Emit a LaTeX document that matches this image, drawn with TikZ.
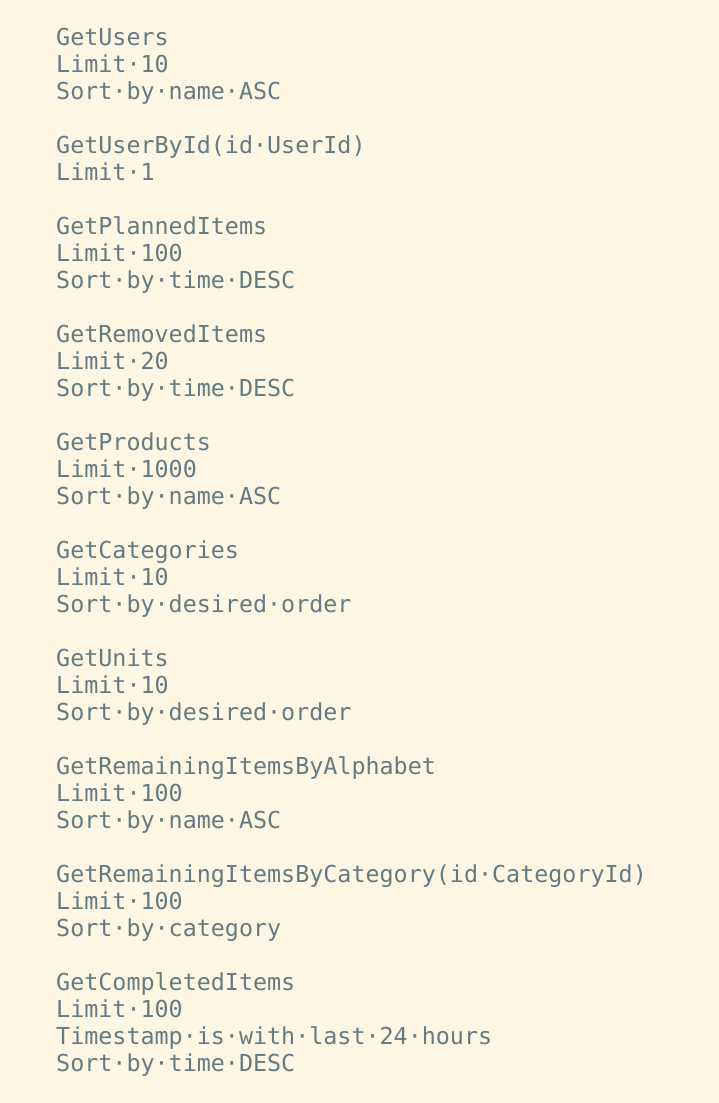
\documentclass[tikz,border=0pt]{standalone}
\usepackage{fontspec}
\newfontfamily\codefont{DejaVu Sans Mono}
\definecolor{bgcream}{HTML}{FDF6E3}
\definecolor{codegray}{HTML}{657B83}
\begin{document}
\begin{tikzpicture}[x=1pt,y=1pt,
  codeline/.style={anchor=base west, inner sep=0pt, text=codegray,
    font=\codefont\fontsize{23.36}{27}\selectfont}]
\fill[bgcream] (0,0) rectangle (719,-1103);
\useasboundingbox (0,0) rectangle (719,-1103);
\def\bl#1{-45-27*#1}
% group 1
\node[codeline] (a1) at (56,{\bl{0}}) {GetUsers};
\node[codeline] (a2) at (56,{\bl{1}}) {Limit·10};
\node[codeline] (a3) at (56,{\bl{2}}) {Sort·by·name·ASC};
% group 2
\node[codeline] (b1) at (56,{\bl{4}}) {GetUserById(id·UserId)};
\node[codeline] (b2) at (56,{\bl{5}}) {Limit·1};
% group 3
\node[codeline] (c1) at (56,{\bl{7}}) {GetPlannedItems};
\node[codeline] (c2) at (56,{\bl{8}}) {Limit·100};
\node[codeline] (c3) at (56,{\bl{9}}) {Sort·by·time·DESC};
% group 4
\node[codeline] (d1) at (56,{\bl{11}}) {GetRemovedItems};
\node[codeline] (d2) at (56,{\bl{12}}) {Limit·20};
\node[codeline] (d3) at (56,{\bl{13}}) {Sort·by·time·DESC};
% group 5
\node[codeline] (e1) at (56,{\bl{15}}) {GetProducts};
\node[codeline] (e2) at (56,{\bl{16}}) {Limit·1000};
\node[codeline] (e3) at (56,{\bl{17}}) {Sort·by·name·ASC};
% group 6
\node[codeline] (f1) at (56,{\bl{19}}) {GetCategories};
\node[codeline] (f2) at (56,{\bl{20}}) {Limit·10};
\node[codeline] (f3) at (56,{\bl{21}}) {Sort·by·desired·order};
% group 7
\node[codeline] (g1) at (56,{\bl{23}}) {GetUnits};
\node[codeline] (g2) at (56,{\bl{24}}) {Limit·10};
\node[codeline] (g3) at (56,{\bl{25}}) {Sort·by·desired·order};
% group 8
\node[codeline] (h1) at (56,{\bl{27}}) {GetRemainingItemsByAlphabet};
\node[codeline] (h2) at (56,{\bl{28}}) {Limit·100};
\node[codeline] (h3) at (56,{\bl{29}}) {Sort·by·name·ASC};
% group 9
\node[codeline] (i1) at (56,{\bl{31}}) {GetRemainingItemsByCategory(id·CategoryId)};
\node[codeline] (i2) at (56,{\bl{32}}) {Limit·100};
\node[codeline] (i3) at (56,{\bl{33}}) {Sort·by·category};
% group 10
\node[codeline] (j1) at (56,{\bl{35}}) {GetCompletedItems};
\node[codeline] (j2) at (56,{\bl{36}}) {Limit·100};
\node[codeline] (j3) at (56,{\bl{37}}) {Timestamp·is·with·last·24·hours};
\node[codeline] (j4) at (56,{\bl{38}}) {Sort·by·time·DESC};
\end{tikzpicture}
\end{document}
